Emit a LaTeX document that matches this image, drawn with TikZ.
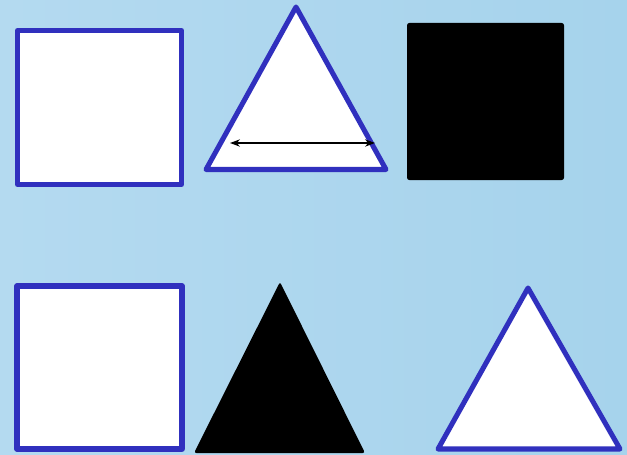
\documentclass[tikz,border=0pt]{standalone}
\usepackage{tikz}
\usetikzlibrary{arrows.meta}
\definecolor{sky}{HTML}{B4DAF0}
\definecolor{skyDeep}{HTML}{A6D3EC}
\definecolor{rim}{HTML}{3030BE}
\tikzset{
  hollow/.style={draw=rim, fill=white, line width=4.3pt, line join=round},
  solid/.style={fill=black, rounded corners=2pt},
  span/.style={{Stealth[length=3mm,width=2.2mm,inset=1mm]}-{Stealth[length=3mm,width=2.2mm,inset=1mm]}, black, line width=1pt},
}
\begin{document}
\begin{tikzpicture}[x=0.03cm, y=-0.03cm]
\shade[left color=sky, right color=skyDeep] (0,0) rectangle (627,454);
\useasboundingbox (0,0) rectangle (627,454);
% top row
\draw[hollow] (17.5,30.5) rectangle (181.5,184.5);
\draw[hollow] (296,7) -- (386,169.5) -- (206,169.5) -- cycle;
\coordinate (spanL) at (230,143);
\coordinate (spanR) at (375,143);
\draw[span] (spanL) -- (spanR);
\fill[solid] (407,23) rectangle (564,180);
% bottom row
\draw[hollow] (17,286) rectangle (182,449);
\fill[solid] (280,282) -- (365,453) -- (194,453) -- cycle;
\draw[hollow] (528,288) -- (620,449) -- (438,449) -- cycle;
\end{tikzpicture}
\end{document}
